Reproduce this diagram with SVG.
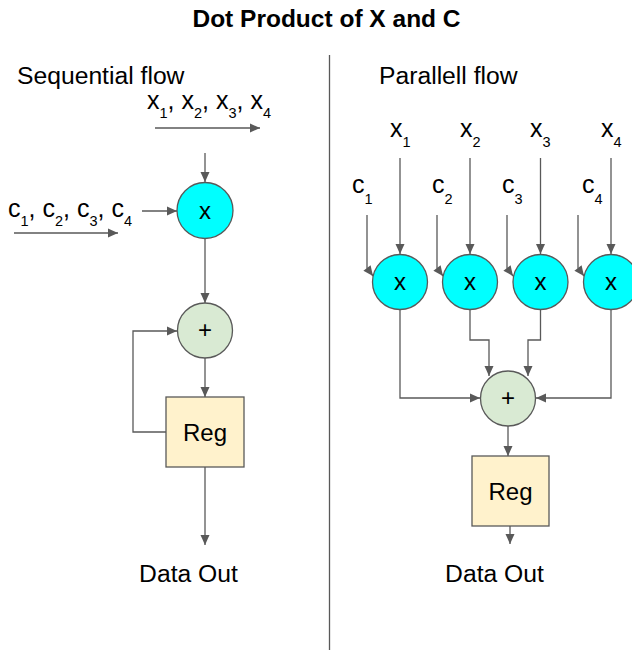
<svg xmlns="http://www.w3.org/2000/svg" width="632" height="650" viewBox="0 0 632 650">
  <defs>
    <marker id="arrow" markerUnits="userSpaceOnUse" markerWidth="12" markerHeight="12" viewBox="0 0 12 12" refX="11" refY="6" orient="auto">
      <path d="M1,1.5 L11,6 L1,10.5 Z" fill="#595959"/>
    </marker>
    <style>
      text { font-family: "Liberation Sans", Arial, sans-serif; fill: #000; }
      .title { font-size: 24.5px; font-weight: bold; }
      .head { font-size: 24.7px; }
      .lbl { font-size: 25px; }
      .sub { font-size: 14.5px; }
      .op { font-size: 24px; text-anchor: middle; }
      .reg { font-size: 24px; text-anchor: middle; }
      .mul { fill: #00ffff; stroke: #595959; stroke-width: 1.3; }
      .add { fill: #d9ead3; stroke: #595959; stroke-width: 1.3; }
      .box { fill: #fff2cc; stroke: #595959; stroke-width: 1.3; }
      .wire { fill: none; stroke: #595959; stroke-width: 1.3; marker-end: url(#arrow); }
      .rule { stroke: #595959; stroke-width: 1.3; }
    </style>
  </defs>

  <rect width="632" height="650" fill="#ffffff"/>

  <text class="title" x="326.5" y="27" text-anchor="middle">Dot Product of X and C</text>
  <line class="rule" x1="329.5" y1="55" x2="329.5" y2="650"/>

  <text class="head" x="17" y="84">Sequential flow</text>
  <text class="head" x="379" y="84">Parallell flow</text>

  <!-- sequential input streams -->
  <text class="lbl" x="147" y="109">x<tspan class="sub" dy="9">1</tspan><tspan dy="-9">, x</tspan><tspan class="sub" dy="9">2</tspan><tspan dy="-9">, x</tspan><tspan class="sub" dy="9">3</tspan><tspan dy="-9">, x</tspan><tspan class="sub" dy="9">4</tspan></text>
  <text class="lbl" x="8" y="217">c<tspan class="sub" dy="9">1</tspan><tspan dy="-9">, c</tspan><tspan class="sub" dy="9">2</tspan><tspan dy="-9">, c</tspan><tspan class="sub" dy="9">3</tspan><tspan dy="-9">, c</tspan><tspan class="sub" dy="9">4</tspan></text>

  <!-- parallel input labels -->
  <g id="par-labels">
    <text class="lbl" x="390" y="137">x<tspan class="sub" dy="10">1</tspan></text>
    <text class="lbl" x="460" y="137">x<tspan class="sub" dy="10">2</tspan></text>
    <text class="lbl" x="530" y="137">x<tspan class="sub" dy="10">3</tspan></text>
    <text class="lbl" x="601" y="137">x<tspan class="sub" dy="10">4</tspan></text>
    <text class="lbl" x="352" y="193">c<tspan class="sub" dy="11">1</tspan></text>
    <text class="lbl" x="432" y="193">c<tspan class="sub" dy="11">2</tspan></text>
    <text class="lbl" x="502" y="193">c<tspan class="sub" dy="11">3</tspan></text>
    <text class="lbl" x="582" y="193">c<tspan class="sub" dy="11">4</tspan></text>
  </g>

  <!-- connectors -->
  <g id="connectors">
    <!-- sequential -->
    <line class="wire" x1="155" y1="128" x2="260" y2="128"/>
    <line class="wire" x1="14" y1="233" x2="118" y2="233"/>
    <line class="wire" x1="205" y1="153" x2="205" y2="182"/>
    <line class="wire" x1="142" y1="211" x2="177" y2="211"/>
    <line class="wire" x1="205" y1="239" x2="205" y2="303"/>
    <line class="wire" x1="205" y1="358" x2="205" y2="397"/>
    <path class="wire" d="M166,432 H133 V331 H177"/>
    <line class="wire" x1="205" y1="467" x2="205" y2="545"/>

    <!-- parallel: x inputs -->
    <line class="wire" x1="400" y1="158" x2="400" y2="254"/>
    <line class="wire" x1="470" y1="158" x2="470" y2="254"/>
    <line class="wire" x1="540.5" y1="158" x2="540.5" y2="254"/>
    <line class="wire" x1="611" y1="158" x2="611" y2="254"/>
    <!-- parallel: c inputs -->
    <path class="wire" d="M367,215 V268 L373,276"/>
    <path class="wire" d="M437,215 V268 L443,276"/>
    <path class="wire" d="M507,215 V268 L513,276"/>
    <path class="wire" d="M578,215 V268 L584,276"/>
    <!-- parallel: products into adder -->
    <path class="wire" d="M400,310 V398 H480"/>
    <path class="wire" d="M470,310 V340 H489 V376"/>
    <path class="wire" d="M540.5,310 V340 H528 V376"/>
    <path class="wire" d="M611,310 V398 H536"/>
    <line class="wire" x1="508" y1="426" x2="508" y2="456"/>
    <line class="wire" x1="510" y1="526" x2="510" y2="544"/>
  </g>

  <!-- sequential nodes -->
  <g id="seq-mul">
    <circle class="mul" cx="205" cy="210.5" r="28"/>
    <text class="op" x="205" y="219">x</text>
  </g>
  <g id="seq-add">
    <circle class="add" cx="205" cy="330.5" r="27.5"/>
    <text class="op" x="205" y="338">+</text>
  </g>
  <g id="seq-reg">
    <rect class="box" x="166" y="397" width="78" height="70"/>
    <text class="reg" x="205" y="441">Reg</text>
  </g>
  <g id="seq-out">
    <text class="head" x="188.5" y="582" text-anchor="middle">Data Out</text>
  </g>

  <!-- parallel nodes -->
  <g id="par-mul-1">
    <circle class="mul" cx="400" cy="282" r="27.5"/>
    <text class="op" x="400" y="290">x</text>
  </g>
  <g id="par-mul-2">
    <circle class="mul" cx="470" cy="282" r="27.5"/>
    <text class="op" x="470" y="290">x</text>
  </g>
  <g id="par-mul-3">
    <circle class="mul" cx="540.5" cy="282" r="27.5"/>
    <text class="op" x="540.5" y="290">x</text>
  </g>
  <g id="par-mul-4">
    <circle class="mul" cx="611" cy="282" r="27.5"/>
    <text class="op" x="611" y="290">x</text>
  </g>
  <g id="par-add">
    <circle class="add" cx="508" cy="398.5" r="27.5"/>
    <text class="op" x="508" y="406">+</text>
  </g>
  <g id="par-reg">
    <rect class="box" x="472" y="456" width="77" height="70"/>
    <text class="reg" x="510.5" y="500">Reg</text>
  </g>
  <g id="par-out">
    <text class="head" x="494.5" y="582" text-anchor="middle">Data Out</text>
  </g>
</svg>
